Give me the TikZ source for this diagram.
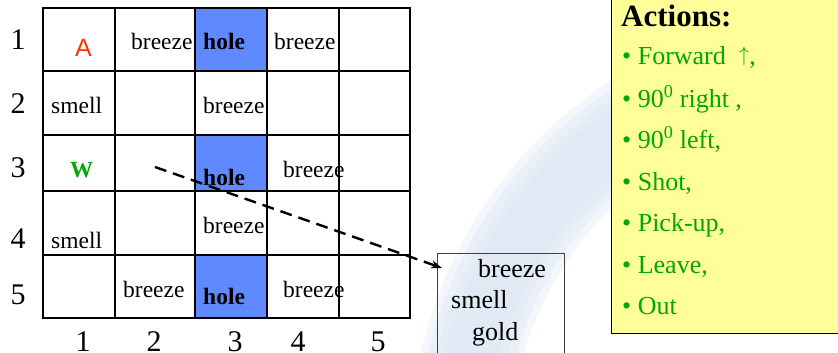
\documentclass[tikz,border=0pt]{standalone}
\usepackage{fontspec}
\setmainfont{Liberation Serif}
\newfontfamily\agentfont{Liberation Sans}
\usetikzlibrary{positioning}
\usetikzlibrary{arrows.meta}

\definecolor{holeblue}{RGB}{96,136,255}
\definecolor{actgreen}{RGB}{0,168,0}
\definecolor{agentred}{RGB}{255,51,0}
\definecolor{notepad}{RGB}{255,255,153}
\definecolor{wmblue}{RGB}{214,226,240}

\tikzset{
  cell/.style={anchor=base west, inner sep=0pt, font=\fontsize{23.5}{24}\selectfont},
  hole/.style={cell, font=\fontsize{23.5}{24}\selectfont\bfseries},
  idx/.style={anchor=base, inner sep=0pt, font=\fontsize{30}{30}\selectfont},
  percept/.style={anchor=base west, inner sep=0pt, font=\fontsize{26}{26}\selectfont},
  act/.style={anchor=base west, inner sep=0pt, text=actgreen, font=\fontsize{26}{26}\selectfont},
  swoosh/.style={wmblue, line width=#1, opacity=0.3},
}

\begin{document}
\begin{tikzpicture}[x=1pt, y=-1pt]
          \useasboundingbox (0,0) rectangle (838,353);
          \clip (0,0) rectangle (838,353);

          % faint swoosh in the background, softened by stacking
          \foreach \w in {100,85,70,55}
            \draw[swoosh=\w pt] (850,450) ++(168:390) arc[start angle=168, end angle=265, radius=390];

          % holes
          \fill[holeblue] (195,8) rectangle (267,71);
          \fill[holeblue] (195,135) rectangle (267,191);
          \fill[holeblue] (195,255) rectangle (267,318);

          % row and column numbers
          \node[idx] (r1) at (18,49) {1};
          \node[idx] (r2) at (18,113) {2};
          \node[idx] (r3) at (18,177) {3};
          \node[idx] (r4) at (18,248) {4};
          \node[idx] (r5) at (18,304) {5};
          \node[idx] (c1) at (83,351) {1};
          \node[idx] (c2) at (154,351) {2};
          \node[idx] (c3) at (235,351) {3};
          \node[idx] (c4) at (298,351) {4};
          \node[idx] (c5) at (378,351) {5};

          % what is in the cells
          \node[cell, text=agentred, font=\agentfont\fontsize{25}{25}\selectfont] (agent) at (75,57) {A};
          \node[cell] (b12) at (131,49) {breeze};
          \node[hole] (h13) at (203,49) {hole};
          \node[cell] (b14) at (274,49) {breeze};
          \node[cell] (s21) at (51,113) {smell};
          \node[cell] (b23) at (203,113) {breeze};
          \node[cell, text=actgreen, font=\bfseries\fontsize{23}{23}\selectfont] (wumpus) at (70,177) {W};
          \node[hole] (h33) at (203,185) {hole};
          \node[cell] (b34) at (283,177) {breeze};
          \node[cell] (b43) at (203,233) {breeze};
          \node[cell] (s41) at (51,248) {smell};
          \node[cell] (b52) at (123,297) {breeze};
          \node[hole] (h53) at (203,304) {hole};
          \node[cell] (b54) at (283,297) {breeze};

          % grid lines
          \foreach \x in {43,115,195,267,339,410}
            \draw[line width=2pt] (\x,8) -- (\x,318);
          \foreach \y in {8,71,135,191,255,318}
            \draw[line width=2pt] (42,\y) -- (411,\y);

          % percept box
          \node[draw=black!75, line width=1pt, anchor=north west, inner sep=0pt,
                minimum width=127pt, minimum height=120pt] (obs) at (437,253) {};
          \node[percept] (p1) at (478,277) {breeze};
          \node[percept] (p2) at (451,308) {smell};
          \node[percept] (p3) at (472,340) {gold};

          \coordinate (seen) at (155,167);
          \draw[line width=2.4pt, dash pattern=on 12pt off 7pt, -{Stealth[length=11pt,width=8pt]}]
            (seen) -- ([xshift=5pt,yshift=-15pt]obs.north west);

          % list of actions
          \node[draw, fill=notepad, line width=1.2pt, anchor=south west, inner sep=0pt,
                minimum width=240pt, minimum height=350pt] (actions) at (611,334) {};
          \node[anchor=base west, inner sep=0pt, font=\bfseries\fontsize{31}{31}\selectfont] (title) at (621,27) {Actions:};
          \node[act] (a1) at (622,65) {\textbullet\ Forward\ \ {\fontsize{21}{21}\selectfont\raisebox{0.19em}{$\uparrow$}},};
          \node[act] (a2) at (622,107) {\textbullet\ 90\textsuperscript{0} right ,};
          \node[act] (a3) at (622,148) {\textbullet\ 90\textsuperscript{0} left,};
          \node[act] (a4) at (622,190) {\textbullet\ Shot,};
          \node[act] (a5) at (622,231) {\textbullet\ Pick-up,};
          \node[act] (a6) at (622,273) {\textbullet\ Leave,};
          \node[act] (a7) at (622,314) {\textbullet\ Out};
        \end{tikzpicture}
\end{document}
